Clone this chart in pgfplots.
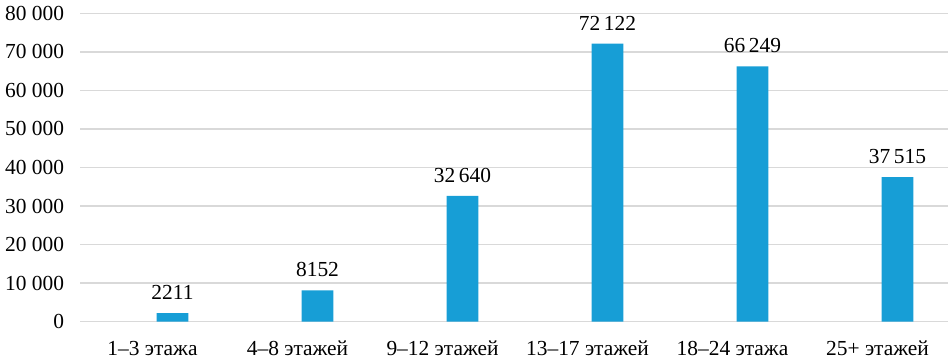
\documentclass[border=0pt]{standalone}
\usepackage{pgfplots}
\pgfplotsset{compat=1.18}
\usepackage{fontspec}
\setmainfont{Liberation Serif}
\definecolor{barblue}{RGB}{23,158,214}
\definecolor{gridgray}{RGB}{217,217,217}
\begin{document}
\begin{tikzpicture}
\begin{axis}[
  at={(80bp,39.3bp)}, anchor=south west,
  scale only axis, width=870bp, height=308.4bp,
  xmin=-0.5, xmax=5.5, ymin=0, ymax=80000,
  ybar, bar width=31.6bp, bar shift=20bp,
  xtick={0,...,5},
  xticklabels={1–3 этажа, 4–8 этажей, 9–12 этажей, 13–17 этажей, 18–24 этажа, 25+ этажей},
  ytick={0,10000,...,80000},
  scaled y ticks=false,
  /pgf/number format/assume math mode=true,
  /pgf/number format/1000 sep={\ },
  axis line style={draw=none},
  major tick length=0pt,
  ymajorgrids,
  grid style={gridgray, line width=1.5bp},
  tick label style={font=\fontsize{21.5}{24}\selectfont},
  yticklabel style={xshift=-12.5bp},
  xticklabel style={yshift=-16bp},
  nodes near coords={\pgfmathprintnumber[1000 sep={\,}, min exponent for 1000 sep=4]{\pgfplotspointmeta}},
  every node near coord/.append style={font=\fontsize{21.5}{24}\selectfont, inner sep=0pt, yshift=13bp, text=black},
]
\addplot[fill=barblue, draw=none] coordinates {
  (0,2211) (1,8152) (2,32640) (3,72122) (4,66249) (5,37515)
};
\end{axis}
\pgfresetboundingbox
\path[use as bounding box] (0,0) rectangle (948bp,361bp);
\end{tikzpicture}
\end{document}
